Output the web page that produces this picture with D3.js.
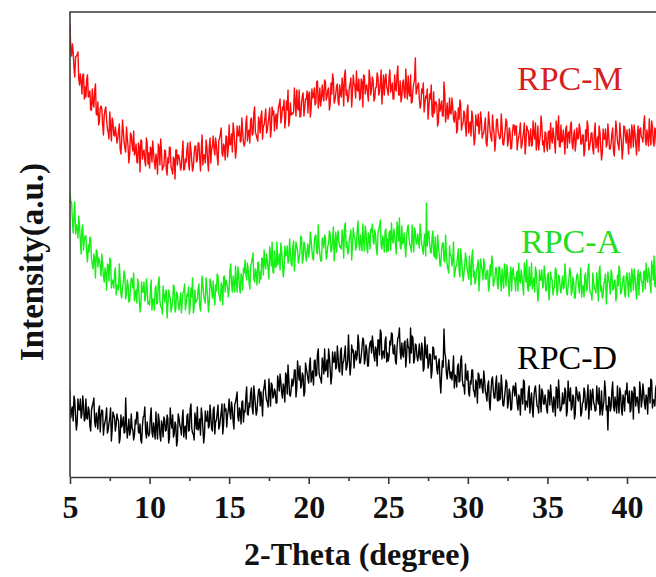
<!DOCTYPE html>
<html>
<head>
<meta charset="utf-8">
<script src="https://cdn.jsdelivr.net/npm/d3@7"></script>
<style>
  html, body { margin: 0; padding: 0; background: #fff; }
  svg { display: block; }
</style>
</head>
<body>
<svg id="chart" width="656" height="577"></svg>
<script>
// XRD scans, 2-theta from 5.00 degrees in 0.05 degree steps (stacked, arbitrary units)
// one row per degree: 5.00-5.95, 6.00-6.95, ... , then the 42.00 point
const scanStart = 5.0;
const scanStep = 0.05;

const rpcM = [
  452, 427, 421, 433, 425, 409, 400, 420, 421, 422, 425, 398, 392, 403, 396, 383, 402, 403, 378, 390,
  380, 398, 402, 380, 381, 386, 367, 367, 388, 374, 370, 387, 393, 363, 362, 375, 352, 356, 369, 371,
  368, 353, 342, 362, 367, 370, 357, 348, 345, 338, 365, 350, 336, 359, 355, 342, 341, 350, 343, 334,
  338, 346, 353, 328, 323, 337, 357, 346, 335, 329, 325, 350, 339, 330, 314, 323, 344, 342, 332, 326,
  346, 322, 325, 333, 315, 314, 334, 330, 305, 337, 336, 318, 325, 327, 316, 311, 339, 334, 313, 324,
  309, 330, 328, 315, 336, 324, 315, 308, 323, 318, 303, 333, 329, 312, 338, 326, 307, 310, 311, 327,
  326, 308, 302, 319, 314, 330, 329, 310, 307, 303, 320, 317, 298, 327, 327, 312, 322, 321, 316, 307,
  311, 324, 336, 307, 308, 318, 315, 328, 334, 313, 307, 335, 327, 316, 306, 310, 323, 331, 331, 315,
  317, 334, 334, 319, 306, 328, 342, 312, 322, 322, 314, 337, 330, 316, 306, 330, 339, 314, 328, 331,
  341, 328, 322, 339, 332, 320, 312, 336, 339, 343, 349, 324, 321, 333, 330, 317, 341, 340, 320, 330,
  352, 332, 333, 343, 325, 354, 346, 334, 319, 327, 351, 341, 342, 351, 335, 336, 359, 345, 334, 331,
  335, 353, 361, 336, 344, 347, 334, 357, 359, 342, 343, 364, 370, 345, 342, 339, 336, 360, 355, 344,
  361, 366, 338, 351, 352, 360, 368, 344, 347, 354, 361, 369, 340, 348, 370, 362, 366, 346, 359, 363,
  348, 362, 369, 373, 378, 354, 359, 370, 367, 377, 349, 358, 376, 367, 387, 351, 357, 374, 362, 364,
  363, 365, 389, 376, 361, 387, 369, 367, 387, 360, 361, 374, 381, 384, 361, 369, 378, 378, 386, 364,
  383, 385, 360, 368, 388, 379, 381, 389, 372, 374, 395, 396, 369, 377, 389, 371, 378, 392, 381, 376,
  397, 395, 377, 380, 387, 389, 367, 373, 394, 383, 403, 398, 374, 377, 383, 391, 393, 375, 372, 392,
  383, 380, 399, 391, 371, 402, 407, 382, 387, 375, 378, 389, 393, 399, 370, 384, 402, 393, 391, 379,
  406, 387, 386, 398, 377, 379, 398, 395, 370, 402, 401, 383, 391, 392, 383, 376, 407, 399, 382, 389,
  400, 396, 376, 379, 389, 390, 404, 400, 382, 385, 395, 407, 373, 388, 402, 382, 397, 403, 390, 387,
  382, 400, 407, 385, 389, 394, 378, 378, 402, 388, 386, 403, 411, 382, 382, 396, 375, 380, 394, 397,
  383, 379, 408, 390, 378, 401, 385, 381, 402, 374, 375, 388, 393, 398, 419, 383, 387, 392, 394, 378,
  369, 373, 388, 384, 394, 365, 373, 381, 379, 388, 358, 369, 383, 378, 392, 362, 360, 385, 364, 375,
  375, 372, 351, 355, 378, 366, 370, 376, 361, 361, 395, 383, 355, 364, 374, 358, 362, 379, 364, 363,
  379, 370, 358, 355, 366, 364, 344, 348, 369, 358, 377, 373, 347, 352, 354, 366, 363, 350, 341, 367,
  372, 344, 351, 355, 341, 366, 360, 346, 332, 339, 362, 353, 351, 363, 343, 348, 365, 357, 339, 343,
  344, 351, 359, 334, 331, 345, 365, 355, 345, 340, 336, 362, 350, 343, 326, 337, 357, 358, 346, 342,
  338, 340, 363, 351, 333, 332, 340, 348, 358, 355, 331, 336, 349, 345, 328, 329, 344, 352, 352, 342,
  351, 351, 327, 336, 340, 345, 354, 329, 332, 339, 345, 354, 323, 333, 351, 347, 346, 331, 339, 348,
  331, 332, 356, 343, 338, 354, 327, 334, 351, 327, 335, 341, 361, 351, 332, 336, 325, 345, 344, 331,
  326, 345, 346, 328, 354, 339, 334, 349, 342, 334, 324, 356, 350, 337, 361, 331, 330, 352, 335, 336,
  347, 337, 323, 348, 351, 329, 343, 345, 334, 352, 355, 333, 328, 342, 347, 326, 335, 349, 338, 339,
  353, 348, 333, 333, 342, 342, 321, 326, 347, 336, 356, 351, 327, 330, 335, 344, 344, 328, 323, 345,
  354, 329, 334, 340, 325, 351, 345, 331, 317, 324, 348, 338, 338, 348, 330, 333, 353, 342, 328, 328,
  333, 343, 349, 326, 321, 337, 356, 347, 336, 332, 327, 354, 342, 335, 318, 329, 351, 350, 340, 334,
  347, 337, 323, 348, 337, 329, 352, 345, 330, 352, 344, 333, 322, 342, 351, 326, 347, 349, 340, 339,
  335, 353, 361, 338, 332, 347, 340, 331, 358, 341, 332, 356, 351, 335, 331, 349, 347, 333, 355, 350,
  348
];

const rpcA = [
  284, 275, 275, 257, 244, 262, 275, 243, 252, 249, 239, 261, 251, 236, 223, 247, 252, 227, 237, 241,
  241, 223, 215, 232, 225, 240, 238, 218, 213, 208, 223, 219, 199, 227, 226, 210, 219, 217, 210, 201,
  223, 213, 201, 195, 209, 204, 187, 213, 212, 196, 219, 217, 189, 197, 196, 189, 204, 209, 182, 192,
  189, 187, 213, 198, 183, 179, 189, 195, 206, 202, 178, 183, 197, 192, 175, 176, 190, 199, 197, 189,
  204, 176, 183, 187, 174, 198, 193, 178, 165, 171, 195, 185, 185, 195, 176, 180, 198, 189, 173, 175,
  172, 184, 197, 167, 178, 178, 167, 188, 191, 173, 174, 195, 200, 176, 170, 170, 163, 191, 182, 175,
  183, 187, 159, 172, 187, 181, 179, 165, 170, 175, 192, 190, 165, 169, 185, 183, 173, 167, 176, 184,
  164, 175, 184, 186, 193, 167, 173, 183, 181, 190, 163, 171, 189, 180, 199, 164, 169, 187, 174, 177,
  177, 188, 193, 171, 166, 182, 201, 192, 182, 177, 174, 199, 189, 180, 165, 174, 198, 195, 187, 179,
  196, 181, 172, 192, 186, 203, 201, 183, 180, 176, 194, 190, 172, 200, 201, 185, 197, 194, 190, 180,
  188, 207, 213, 192, 185, 201, 193, 185, 211, 195, 185, 210, 204, 189, 184, 203, 200, 187, 209, 204,
  217, 203, 197, 214, 207, 195, 188, 211, 214, 218, 224, 199, 195, 208, 204, 192, 214, 215, 194, 205,
  198, 219, 218, 202, 227, 213, 208, 223, 216, 208, 198, 230, 224, 211, 235, 205, 204, 226, 210, 210,
  235, 212, 215, 223, 207, 234, 227, 214, 200, 207, 231, 221, 222, 231, 214, 216, 238, 225, 213, 211,
  230, 236, 206, 221, 235, 230, 227, 214, 219, 224, 241, 239, 214, 218, 235, 232, 223, 216, 227, 233,
  220, 227, 245, 238, 227, 219, 217, 235, 241, 242, 225, 223, 252, 232, 223, 216, 216, 239, 236, 229,
  242, 239, 218, 222, 231, 233, 246, 243, 225, 228, 238, 250, 216, 231, 245, 225, 240, 246, 234, 230,
  231, 228, 247, 239, 219, 250, 254, 230, 235, 223, 226, 237, 241, 247, 217, 232, 249, 241, 239, 227,
  231, 248, 256, 233, 227, 242, 234, 226, 253, 236, 226, 251, 245, 230, 224, 244, 240, 228, 248, 245,
  253, 236, 233, 247, 242, 228, 222, 244, 248, 251, 257, 232, 228, 241, 236, 225, 246, 248, 225, 238,
  226, 244, 246, 227, 254, 238, 234, 248, 242, 233, 223, 255, 249, 236, 259, 230, 228, 251, 233, 235,
  244, 230, 220, 241, 248, 252, 240, 232, 231, 225, 252, 239, 225, 249, 245, 234, 233, 243, 236, 229,
  253, 243, 233, 228, 223, 237, 243, 221, 274, 231, 244, 246, 233, 225, 224, 239, 246, 223, 220, 240,
  218, 219, 242, 230, 223, 211, 211, 227, 234, 234, 217, 215, 242, 224, 212, 208, 204, 231, 222, 221,
  211, 217, 235, 200, 205, 211, 211, 221, 228, 206, 200, 228, 218, 209, 196, 203, 211, 224, 218, 208,
  205, 198, 221, 209, 192, 220, 227, 200, 206, 193, 196, 207, 211, 217, 186, 202, 218, 211, 206, 197,
  218, 213, 198, 198, 206, 207, 186, 191, 212, 201, 221, 216, 191, 195, 199, 209, 209, 193, 188, 210,
  210, 197, 186, 208, 198, 189, 213, 205, 191, 212, 204, 193, 181, 202, 210, 186, 205, 209, 198, 199,
  186, 203, 206, 186, 214, 197, 194, 207, 201, 192, 182, 214, 208, 195, 217, 189, 186, 210, 191, 194,
  214, 188, 194, 199, 185, 210, 205, 190, 176, 183, 207, 197, 197, 207, 189, 192, 211, 201, 186, 187,
  201, 204, 177, 189, 205, 198, 197, 182, 188, 192, 209, 207, 182, 186, 202, 200, 190, 184, 193, 201,
  188, 190, 213, 201, 184, 182, 191, 198, 209, 205, 182, 186, 200, 195, 179, 179, 195, 202, 203, 192,
  184, 197, 209, 180, 191, 191, 180, 201, 204, 186, 188, 208, 213, 189, 184, 183, 177, 204, 196, 188,
  188, 184, 204, 195, 176, 206, 211, 186, 191, 179, 182, 193, 197, 203, 173, 188, 205, 197, 194, 183,
  207, 203, 187, 188, 196, 197, 176, 181, 202, 191, 211, 206, 183, 185, 191, 199, 201, 183, 180, 200,
  204, 193, 180, 204, 194, 185, 208, 201, 187, 208, 200, 189, 178, 198, 207, 182, 203, 205, 196, 195,
  185, 205, 206, 188, 214, 199, 195, 209, 203, 194, 184, 216, 210, 197, 221, 191, 190, 212, 195, 196,
  203
];

const rpcD = [
  86, 59, 66, 70, 56, 81, 76, 61, 47, 54, 78, 68, 67, 78, 59, 63, 81, 72, 56, 58,
  78, 59, 58, 70, 66, 51, 46, 67, 71, 74, 79, 55, 50, 64, 57, 48, 67, 71, 45, 61,
  67, 66, 42, 51, 55, 60, 69, 44, 47, 54, 59, 69, 36, 48, 65, 62, 59, 46, 52, 63,
  58, 56, 34, 39, 62, 50, 53, 60, 44, 45, 79, 52, 39, 48, 58, 42, 46, 63, 49, 47,
  37, 42, 57, 53, 65, 64, 45, 44, 53, 37, 34, 51, 60, 61, 70, 46, 39, 55, 44, 41,
  44, 60, 69, 45, 40, 54, 47, 38, 65, 48, 38, 63, 57, 42, 36, 56, 52, 40, 60, 57,
  46, 47, 62, 58, 34, 39, 69, 55, 49, 62, 40, 43, 55, 52, 31, 36, 63, 59, 52, 49,
  42, 57, 67, 40, 49, 51, 38, 61, 63, 46, 47, 68, 73, 49, 44, 43, 37, 64, 57, 48,
  70, 47, 50, 58, 42, 69, 62, 49, 34, 42, 66, 56, 56, 66, 49, 51, 72, 60, 48, 46,
  67, 70, 43, 55, 57, 64, 72, 48, 51, 58, 65, 73, 43, 52, 73, 66, 68, 50, 62, 67,
  78, 64, 58, 75, 68, 56, 48, 72, 75, 79, 85, 60, 56, 69, 65, 53, 75, 76, 55, 66,
  65, 80, 90, 63, 62, 74, 70, 84, 89, 69, 63, 91, 82, 72, 62, 66, 79, 87, 88, 71,
  85, 75, 61, 86, 90, 97, 83, 77, 75, 70, 98, 84, 71, 94, 92, 79, 81, 88, 85, 74,
  74, 101, 94, 86, 103, 95, 84, 79, 93, 89, 75, 104, 101, 83, 112, 97, 82, 81, 88, 98,
  91, 96, 107, 107, 80, 88, 116, 104, 97, 111, 89, 92, 104, 101, 81, 85, 114, 108, 104, 98,
  94, 112, 119, 95, 102, 106, 92, 116, 117, 101, 102, 123, 128, 104, 100, 98, 94, 119, 114, 103,
  128, 106, 108, 117, 100, 128, 120, 108, 93, 101, 125, 115, 115, 125, 108, 110, 131, 119, 107, 105,
  126, 129, 102, 114, 116, 123, 131, 107, 110, 117, 142, 118, 102, 111, 132, 125, 127, 109, 121, 126,
  117, 122, 142, 133, 114, 114, 121, 130, 139, 137, 113, 118, 132, 127, 111, 111, 128, 134, 136, 124,
  141, 133, 121, 116, 130, 127, 111, 137, 137, 122, 147, 144, 118, 125, 126, 119, 136, 140, 115, 124,
  116, 121, 136, 132, 144, 143, 124, 123, 132, 116, 113, 130, 139, 140, 149, 125, 118, 134, 123, 120,
  134, 136, 110, 121, 138, 130, 129, 114, 149, 124, 141, 139, 114, 118, 133, 132, 121, 116, 123, 133,
  119, 117, 134, 128, 106, 109, 140, 125, 119, 132, 109, 113, 123, 122, 99, 106, 130, 129, 118, 119,
  121, 108, 103, 114, 118, 96, 84, 102, 116, 110, 148, 125, 120, 104, 98, 108, 117, 106, 99, 105,
  97, 106, 121, 89, 102, 100, 90, 110, 113, 95, 96, 117, 121, 98, 91, 92, 83, 113, 101, 97,
  106, 85, 81, 96, 93, 107, 107, 87, 85, 80, 97, 94, 74, 104, 102, 89, 97, 98, 89, 84,
  106, 97, 86, 82, 76, 91, 96, 75, 67, 85, 97, 100, 87, 79, 79, 93, 101, 77, 76, 94,
  77, 79, 102, 90, 72, 71, 79, 87, 97, 94, 69, 75, 88, 84, 67, 68, 83, 91, 90, 81,
  94, 84, 74, 67, 82, 78, 62, 88, 88, 73, 97, 95, 67, 76, 75, 70, 85, 91, 64, 75,
  84, 69, 60, 80, 88, 91, 80, 71, 70, 64, 92, 78, 65, 88, 85, 73, 73, 82, 76, 68,
  64, 87, 84, 72, 92, 81, 72, 65, 80, 75, 61, 90, 87, 69, 97, 83, 66, 67, 71, 84,
  73, 74, 89, 85, 61, 66, 96, 82, 76, 89, 67, 70, 82, 79, 58, 63, 90, 86, 79, 76,
  85, 81, 61, 64, 74, 75, 89, 85, 67, 70, 80, 92, 58, 73, 87, 67, 82, 88, 75, 72,
  66, 67, 91, 78, 73, 89, 62, 69, 86, 62, 70, 76, 96, 86, 67, 71, 47, 80, 79, 66,
  70, 86, 95, 71, 66, 80, 73, 64, 91, 74, 64, 89, 83, 68, 62, 82, 78, 66, 86, 83,
  94, 75, 74, 86, 65, 67, 86, 83, 58, 90, 89, 71, 79, 80, 71, 64, 95, 87, 70, 77,
  93, 85, 73, 68, 82, 79, 63, 89, 89, 74, 98, 96, 69, 77, 77, 71, 88, 92, 67, 76,
  85
];

const seriesNames = ["RPC-M", "RPC-A", "RPC-D"];
const seriesValues = [rpcM, rpcA, rpcD];
const lineColors = ["#ff0a0a", "#14f014", "#000000"];
const labelColors = ["#d81e1e", "#22dd22", "#000000"];
const labelSpots = [[517, 90], [521, 253], [517, 369]];

const xMajorTicks = [5, 10, 15, 20, 25, 30, 35, 40];
const xMinorTicks = [7.5, 12.5, 17.5, 22.5, 27.5, 32.5, 37.5];

const svg = d3.select("#chart");
const plotLeft = 70, plotTop = 12, plotBottom = 477;
const serif = "'Liberation Serif', 'Times New Roman', Times, serif";

const x = d3.scaleLinear().domain([5, 42]).range([plotLeft, plotLeft + 37 * 15.914]);
const y = d3.scaleLinear().domain([0, 465]).range([plotBottom, plotTop]);

// clip the traces to the plot area
svg.append("clipPath").attr("id", "plot-clip")
  .append("rect").attr("x", plotLeft).attr("y", plotTop)
  .attr("width", 656 - plotLeft).attr("height", plotBottom - plotTop);

const line = d3.line()
  .x((d, i) => x(scanStart + i * scanStep))
  .y(d => y(d));

const traces = svg.append("g").attr("clip-path", "url(#plot-clip)");
[2, 1, 0].forEach(k => {
  traces.append("path")
    .datum(seriesValues[k])
    .attr("d", line)
    .attr("fill", "none")
    .attr("stroke", lineColors[k])
    .attr("stroke-width", 1.4)
    .attr("stroke-linejoin", "round");
});

// frame: left and top edges
svg.append("path")
  .attr("d", `M${plotLeft},${plotBottom}V${plotTop}H656`)
  .attr("fill", "none")
  .attr("stroke", "#3a3a3a")
  .attr("stroke-width", 1.6);

// bottom axis with major and minor ticks
const xAxis = d3.axisBottom(x).tickValues(xMajorTicks).tickSize(7).tickSizeOuter(0).tickFormat(d3.format("d"));
const gx = svg.append("g").attr("transform", `translate(0,${plotBottom})`).call(xAxis);
gx.select(".domain").attr("stroke", "#3a3a3a").attr("stroke-width", 1.6);
gx.selectAll(".tick line").attr("stroke", "#3a3a3a").attr("stroke-width", 1.6);
gx.selectAll(".tick text")
  .attr("y", 41).attr("dy", 0)
  .attr("fill", "#111")
  .style("font-family", serif)
  .style("font-weight", "bold")
  .style("font-size", "32px");

const gm = svg.append("g").attr("transform", `translate(0,${plotBottom})`)
  .call(d3.axisBottom(x).tickValues(xMinorTicks).tickSize(4).tickSizeOuter(0).tickFormat(""));
gm.select(".domain").remove();
gm.selectAll(".tick line").attr("stroke", "#3a3a3a").attr("stroke-width", 1.6);

// axis titles
svg.append("text")
  .attr("x", 357).attr("y", 565)
  .attr("text-anchor", "middle")
  .style("font-family", serif).style("font-weight", "bold").style("font-size", "32px")
  .attr("fill", "#111")
  .text("2-Theta (degree)");

svg.append("text")
  .attr("transform", "translate(43,262) rotate(-90)")
  .attr("text-anchor", "middle")
  .style("font-family", serif).style("font-weight", "bold").style("font-size", "33px")
  .attr("fill", "#111")
  .text("Intensity(a.u.)");

// series labels
seriesNames.forEach((name, k) => {
  svg.append("text")
    .attr("x", labelSpots[k][0]).attr("y", labelSpots[k][1])
    .style("font-family", serif).style("font-size", "34px")
    .attr("fill", labelColors[k])
    .text(name);
});
</script>
</body>
</html>
